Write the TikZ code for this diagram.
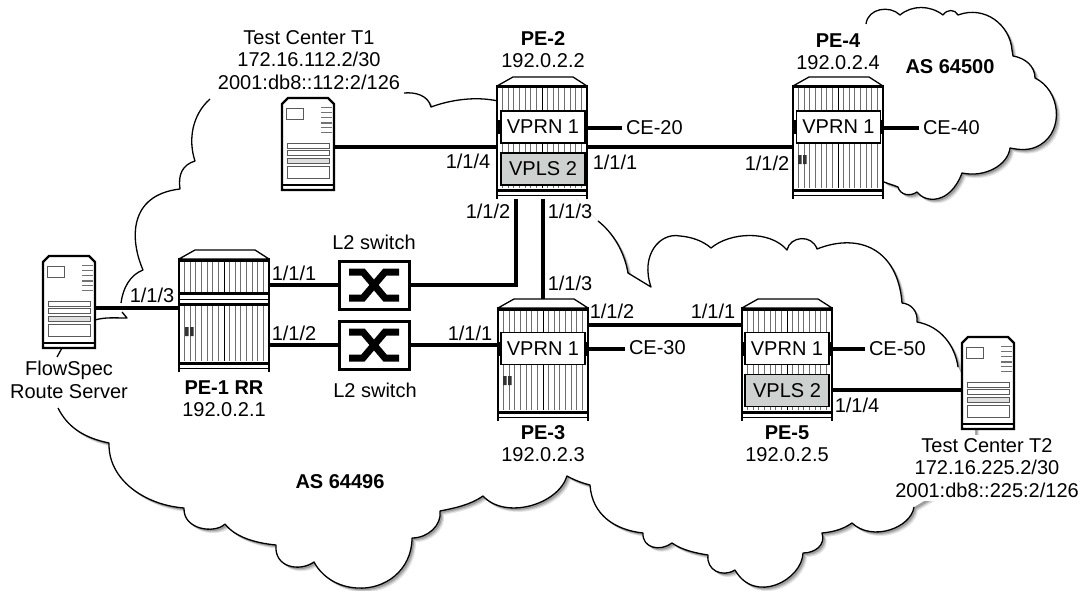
\documentclass[tikz,border=0pt]{standalone}
\usepackage{fontspec}
\setmainfont{Liberation Sans}
\pgfdeclarelayer{cloud}
\pgfdeclarelayer{link}
\pgfsetlayers{cloud,link,main}
\definecolor{vplsgray}{RGB}{205,209,207}
\definecolor{stripegray}{RGB}{110,110,110}
\tikzset{
  txt/.style={inner sep=0pt,outer sep=0pt,font=\fontsize{20}{22.5}\selectfont,align=center},
  btxt/.style={txt,font=\fontsize{20}{22.5}\selectfont\bfseries},
  link/.style={line width=3.2pt,draw=black},
  cloudline/.style={line width=1.3pt,draw=black,line join=round},
  devbody/.style={inner sep=0pt,outer sep=0pt,fill=white,minimum width=90pt,minimum height=114pt},
  srvbody/.style={inner sep=0pt,outer sep=0pt,fill=white,minimum width=52pt,minimum height=92pt},
  vprnbox/.style={txt,draw=black,line width=1.5pt,fill=white,minimum width=84pt,minimum height=32pt},
  vplsbox/.style={vprnbox,fill=vplsgray},
  switchbox/.style={inner sep=0pt,outer sep=0pt,draw=black,line width=3pt,fill=white,minimum width=70pt,minimum height=48pt},
  stripe/.style={draw=stripegray,line width=.85pt},
  srvdetail/.style={draw=black!65,line width=.8pt},
  srvvent/.style={draw=black!55,line width=.9pt},
}
% device: name, left, top
\newcommand\pedev[3]{%
  \node[devbody] (#1) at ({#2+45},{#3+65}) {};
  \begin{scope}[shift={(#2,#3)}]
    \foreach \i in {1,...,15} {\draw[stripe] ({\i*5.62},11) -- ({\i*5.62},111);}
    \draw[draw=black,line width=1pt] (45,11) -- (45,111);
    \draw[fill=white,draw=black,line width=1.3pt,line join=round] (0,9) -- (16,0) -- (76,0) -- (90,9) -- cycle;
    \fill[black] (0,8.5) rectangle (90,11.5);
    \fill[white] (0,114) rectangle (90,122);
    \fill[black] (0,111.5) rectangle (90,114.5);
    \draw[black,line width=1pt] (0,118.5) -- (90,118.5);
    \draw[black,line width=1.4pt] (0,8) -- (0,122) (90,8) -- (90,122);
  \end{scope}}
\newcommand\midband[2]{%
  \begin{scope}[shift={(#1,#2)}]
    \fill[white] (0,42) rectangle (90,56);
    \fill[black] (0,42) rectangle (90,45);
    \draw[black,line width=.9pt] (0,49) -- (90,49);
    \fill[black] (0,53) rectangle (90,55.5);
    \draw[black,line width=1.4pt] (0,42) -- (0,56) (90,42) -- (90,56);
  \end{scope}}
\newcommand\slotmark[2]{\fill[black!80] (#1,#2) rectangle ({#1+3.5},{#2+9}) ({#1+5},#2) rectangle ({#1+8.5},{#2+9});}
\newcommand\sidetabs[3]{% left x, right x, mid y
  \draw[black,line width=2.4pt] ({#1+1.5},{#3-7}) -- ({#1+1.5},{#3+7}) ({#2-1.5},{#3-7}) -- ({#2-1.5},{#3+7});}
\newcommand\serverdev[3]{%
  \node[srvbody] (#1) at ({#2+26},{#3+46}) {};
  \begin{scope}[shift={(#2,#3)}]
    \draw[draw=black,line width=2.2pt,line join=miter] (0,6) -- (6,0) -- (46,0) -- (52,6) -- (52,92) -- (0,92) -- cycle;
    \draw[black,line width=1.4pt] (0,87) -- (52,87);
    \draw[srvdetail] (4,10) rectangle (21,21);
    \foreach \y in {9,14,19,24,25.5,29,34} {\draw[srvvent] (39,\y) -- (50,\y);}
    \draw[srvdetail] (5,45) rectangle (47,50);
    \draw[srvdetail] (5,52.5) rectangle (47,57.5);
    \draw[srvdetail,fill=black!12] (5,60.5) rectangle (47,65);
    \draw[srvdetail] (5,68) rectangle (47,80);
  \end{scope}}
\newcommand\xswitch[3]{%
  \node[switchbox] (#1) at (#2,#3) {};
  \begin{scope}[shift={(#2,#3)}]
    \draw[black,line width=7pt,line join=miter,miter limit=3] (-25,-13) -- (-11,-13) -- (11,13) -- (25,13);
    \draw[black,line width=7pt,line join=miter,miter limit=3] (-25,13) -- (-11,13) -- (11,-13) -- (25,-13);
  \end{scope}}
% cloud outlines
\def\mA{(121,303) .. controls (123,288) and (130,275) .. (143,270) .. controls (130,240) and (128,195) .. (180,189) .. controls (178,175) and (182,165) .. (195,161) .. controls (188,140) and (192,115) .. (210,99)}
\def\mB{(404,93) .. controls (415,92) and (428,95) .. (431,107) .. controls (450,100) and (475,96) .. (498,101)}
\def\mC{(598,221) .. controls (612,232) and (624,250) .. (628,273) -- (651,287) .. controls (640,255) and (660,232) .. (680,236) .. controls (692,237) and (703,241) .. (711,248) .. controls (730,232) and (770,230) .. (787,250) .. controls (790,236) and (812,234) .. (817,249) .. controls (860,232) and (898,250) .. (902,303) .. controls (912,304) and (918,312) .. (917,322) .. controls (940,326) and (955,345) .. (958,367)}
\def\mD{(914,507) .. controls (911,528) and (872,542) .. (852,523) .. controls (842,530) and (832,532) .. (822,533) .. controls (826,545) and (815,553) .. (803,553) .. controls (802,580) and (755,605) .. (735,570) .. controls (722,578) and (706,570) .. (708,555) .. controls (695,553) and (682,550) .. (672,543) .. controls (660,552) and (642,548) .. (643,533) .. controls (615,530) and (592,515) .. (590,485) .. controls (582,483) and (574,480) .. (567,476) .. controls (558,505) and (505,520) .. (483,496) .. controls (470,505) and (455,508) .. (440,511) .. controls (442,525) and (428,538) .. (412,538) .. controls (412,570) and (385,590) .. (357,588) .. controls (338,587) and (322,577) .. (314,562) .. controls (300,572) and (274,568) .. (276,545) .. controls (255,543) and (235,537) .. (225,524) .. controls (215,534) and (183,530) .. (184,508) .. controls (145,505) and (108,480) .. (109,443) .. controls (85,438) and (68,428) .. (58,408)}
\def\mainclosed{\mA -- \mB -- (575,198) -- \mC -- (975,400) -- (975,470) -- \mD -- (57,357) -- cycle}
\def\cB{(866,24) .. controls (868,8) and (890,5) .. (900,15) .. controls (912,5) and (930,5) .. (943,15) .. controls (947,9) and (955,9) .. (958,15) .. controls (985,5) and (1010,25) .. (1012,50) -- (1013,56) .. controls (1025,58) and (1035,66) .. (1035,78) .. controls (1060,90) and (1065,130) .. (1040,145) .. controls (1030,151) and (1020,150) .. (1010,148) .. controls (1008,165) and (985,178) .. (962,173) .. controls (950,205) and (925,203) .. (917,192) .. controls (910,197) and (900,195) .. (898,187) .. controls (893,185) and (889,184) .. (884,182)}
\def\cloudclosed{\cB -- (860,100) -- cycle}
\begin{document}
\begin{tikzpicture}[x=1pt,y=-1pt]
\useasboundingbox (0,0) rectangle (1086,591);
\begin{pgfonlayer}{cloud}
  \foreach \ofs/\shd in {4/10,3/22,2/38} {
    \fill[black!\shd,shift={(\ofs,\ofs)}] \mainclosed;
    \fill[black!\shd,shift={(\ofs,\ofs)}] \cloudclosed;
  }
  \fill[white] \mainclosed;
  \fill[white] \cloudclosed;
  \draw[cloudline] \mA;
  \draw[cloudline] \mB;
  \draw[cloudline] \mC;
  \draw[cloudline] \mD;
  \draw[cloudline] \cB;
  \draw[cloudline] (62,348) -- (57,357);
  \draw[cloudline] (95,320) .. controls (105,317) and (115,318) .. (127,318) -- (122,312);
\end{pgfonlayer}

% devices
\pedev{pe1}{179}{250}
\midband{179}{250}
\slotmark{185}{327}
\pedev{pe2}{497}{77}
\pedev{pe3}{498}{299}
\slotmark{503}{376}
\pedev{pe4}{793}{77}
\slotmark{798}{155}
\pedev{pe5}{742}{299}

\sidetabs{497}{587}{127}
\sidetabs{498}{588}{349}
\sidetabs{793}{883}{127}
\sidetabs{742}{832}{349}

\node[vprnbox] (v2) at (543,127) {VPRN 1};
\node[vplsbox] (l2) at (543,169) {VPLS 2};
\node[vprnbox] (v3) at (543,348.5) {VPRN 1};
\node[vprnbox] (v4) at (838.5,127) {VPRN 1};
\node[vprnbox] (v5) at (787,348.5) {VPRN 1};
\node[vplsbox] (l5) at (787,390.5) {VPLS 2};

\serverdev{t1}{282}{98}
\serverdev{t2}{962}{337}
\serverdev{fs}{43}{256}

\xswitch{sw1}{374}{285}
\xswitch{sw2}{374}{345}

% CE labels
\node[txt,anchor=west] (ce20) at (626,128) {CE-20};
\node[txt,anchor=west] (ce40) at (923,128) {CE-40};
\node[txt,anchor=west] (ce30) at (629,348) {CE-30};
\node[txt,anchor=west] (ce50) at (869,349) {CE-50};

% connectors
\begin{pgfonlayer}{link}
  \draw[link] (fs.east |- 0,308) -- (pe1.west |- 0,308);
  \draw[link] (pe1.east |- 0,285) -- (sw1.west |- 0,285);
  \draw[link] (pe1.east |- 0,345) -- (sw2.west |- 0,345);
  \draw[link] (sw1.east |- 0,285) -| (516,0 |- pe2.south);
  \draw[link] (sw2.east |- 0,345) -- (pe3.west |- 0,345);
  \draw[link] (543,0 |- pe2.south) -- (543,0 |- pe3.north);
  \draw[link] (t1.east |- 0,147) -- (pe2.west |- 0,147);
  \draw[link] (pe2.east |- 0,147) -- (pe4.west |- 0,147);
  \draw[link] (pe3.east |- 0,325) -- (pe5.west |- 0,325);
  \draw[link] (pe5.east |- 0,390) -- (t2.west |- 0,390);
  \draw[link] (pe2.east |- 0,128) -- ([xshift=-4pt]ce20.west |- 0,128);
  \draw[link] (pe4.east |- 0,128) -- ([xshift=-4pt]ce40.west |- 0,128);
  \draw[link] (pe3.east |- 0,349) -- ([xshift=-4pt]ce30.west |- 0,349);
  \draw[link] (pe5.east |- 0,349) -- ([xshift=-4pt]ce50.west |- 0,349);
\end{pgfonlayer}

% device captions
\node[txt] (t1txt) at (309,60) {Test Center T1\\172.16.112.2/30\\2001:db8::112:2/126};
\node[txt,fill=white,inner ysep=3pt] (t2txt) at (987,468) {Test Center T2\\172.16.225.2/30\\2001:db8::225:2/126};
\node[txt] (fstxt) at (69,380) {FlowSpec\\Route Server};
\node[btxt] (pe2a) at (543,39) {PE-2};
\node[txt] (pe2b) at (543,61) {192.0.2.2};
\node[btxt] (pe4a) at (838,41) {PE-4};
\node[txt] (pe4b) at (838,63) {192.0.2.4};
\node[btxt] (pe1a) at (224,388) {PE-1 RR};
\node[txt] (pe1b) at (224,410) {192.0.2.1};
\node[btxt] (pe3a) at (543,433) {PE-3};
\node[txt] (pe3b) at (543,455) {192.0.2.3};
\node[btxt] (pe5a) at (787,433) {PE-5};
\node[txt] (pe5b) at (787,455) {192.0.2.5};
\node[btxt] (as1) at (340,482) {AS 64496};
\node[btxt] (as2) at (950,67) {AS 64500};
\node[txt] (sw1t) at (374,242) {L2 switch};
\node[txt] (sw2t) at (375,390) {L2 switch};

% port labels
\node[txt] (a1) at (152,295) {1/1/3};
\node[txt] (a2) at (294,273) {1/1/1};
\node[txt] (a3) at (294,333) {1/1/2};
\node[txt] (a4) at (468,161) {1/1/4};
\node[txt] (a5) at (615,162) {1/1/1};
\node[txt] (a6) at (488,211) {1/1/2};
\node[txt] (a7) at (570,211) {1/1/3};
\node[txt] (a8) at (570,283) {1/1/3};
\node[txt] (a9) at (612,311) {1/1/2};
\node[txt] (a10) at (713,311) {1/1/1};
\node[txt] (a11) at (470,333) {1/1/1};
\node[txt] (a12) at (767,163) {1/1/2};
\node[txt] (a13) at (857,405) {1/1/4};
\end{tikzpicture}
\end{document}
